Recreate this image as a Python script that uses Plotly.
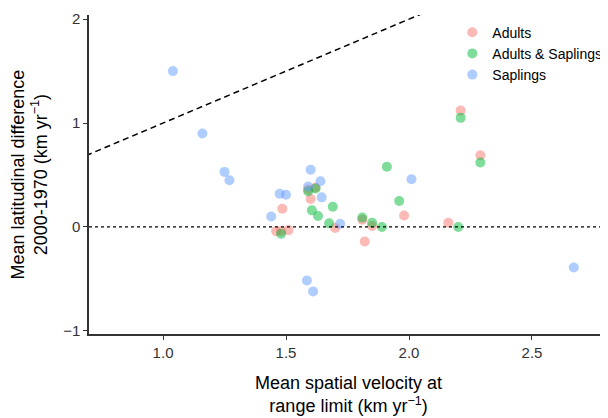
import plotly.graph_objects as go

# ---- data ----
adults_x = [1.485, 1.46, 1.48, 1.51, 1.59, 1.60, 1.62, 1.70, 1.81, 1.85, 1.82, 1.98, 2.16, 2.21, 2.29]
adults_y = [0.175, -0.04, -0.04, -0.03, 0.36, 0.27, 0.38, -0.01, 0.07, 0.01, -0.14, 0.11, 0.04, 1.12, 0.69]

both_x = [1.48, 1.59, 1.62, 1.605, 1.63, 1.69, 1.675, 1.81, 1.85, 1.89, 1.91, 1.96, 2.20, 2.21, 2.29]
both_y = [-0.065, 0.345, 0.37, 0.16, 0.105, 0.195, 0.035, 0.09, 0.04, 0.00, 0.58, 0.25, 0.00, 1.05, 0.62]

sapl_x = [1.04, 1.16, 1.25, 1.27, 1.44, 1.474, 1.50, 1.60, 1.59, 1.64, 1.645, 1.72, 1.585, 1.61, 2.01, 2.67]
sapl_y = [1.50, 0.90, 0.53, 0.45, 0.10, 0.32, 0.31, 0.55, 0.39, 0.44, 0.285, 0.03, -0.515, -0.62, 0.46, -0.39]

series_names = ["Adults", "Adults & Saplings", "Saplings"]
series_colors = ["#F8766D", "#00BA38", "#619CFF"]

x_ticks = [1.0, 1.5, 2.0, 2.5]
y_ticks = [-1, 0, 1, 2]
x_range = [0.699, 2.809]
y_range = [-1.03, 2.04]

x_title = "Mean spatial velocity at<br>range limit (km yr<sup>\u22121</sup>)"
y_title = "Mean latitudinal difference<br>2000-1970 (km yr<sup>\u22121</sup>)"

# 1:1 reference line
ref_x = [0.5, 3.0]
ref_y = [0.5, 3.0]

fig = go.Figure()

fig.add_trace(go.Scatter(x=ref_x, y=ref_y, mode="lines",
                         line=dict(color="black", width=1.5, dash="6px,4px"),
                         showlegend=False, hoverinfo="skip"))

for name, col, xs, ys in zip(series_names, series_colors,
                             [adults_x, both_x, sapl_x], [adults_y, both_y, sapl_y]):
    fig.add_trace(go.Scatter(x=xs, y=ys, mode="markers", name=name,
                             marker=dict(color=col, size=10, opacity=0.5, line=dict(width=0))))

fig.add_shape(type="line", xref="paper", yref="y", x0=0, x1=1, y0=0, y1=0,
              line=dict(color="black", width=1.3, dash="dot"))

axis_common = dict(showgrid=False, zeroline=False, showline=True, linecolor="#333333",
                   linewidth=1.5, ticks="outside", ticklen=4, tickcolor="#333333",
                   tickwidth=1.2, tickfont=dict(size=15, color="#333333"),
                   automargin=False)

fig.update_xaxes(range=x_range, tickvals=x_ticks, ticktext=[f"{v:.1f}" for v in x_ticks],
                 **axis_common)
fig.update_yaxes(range=y_range, tickvals=y_ticks, **axis_common)

fig.add_annotation(text=x_title, xref="paper", yref="paper", x=0.5, y=0,
                   xanchor="center", yanchor="middle", yshift=-60, showarrow=False,
                   font=dict(size=18, color="black"))
fig.add_annotation(text=y_title, xref="paper", yref="paper", x=0, y=0.5,
                   xanchor="center", yanchor="middle", xshift=-60, textangle=-90,
                   showarrow=False, font=dict(size=18, color="black"))

# the page body has an 8px margin, so the figure is drawn 8px smaller
fig.update_layout(
    width=600, height=410,
    margin=dict(l=81, r=0, t=7, b=84, autoexpand=False),
    plot_bgcolor="white", paper_bgcolor="white",
    font=dict(family="Liberation Sans, Arial, sans-serif", color="black"),
    legend=dict(x=0.70, y=0.995, xanchor="left", yanchor="top",
                font=dict(size=14, color="black"), bgcolor="rgba(0,0,0,0)",
                tracegroupgap=0, itemwidth=30),
)

fig.write_html("out.html")
